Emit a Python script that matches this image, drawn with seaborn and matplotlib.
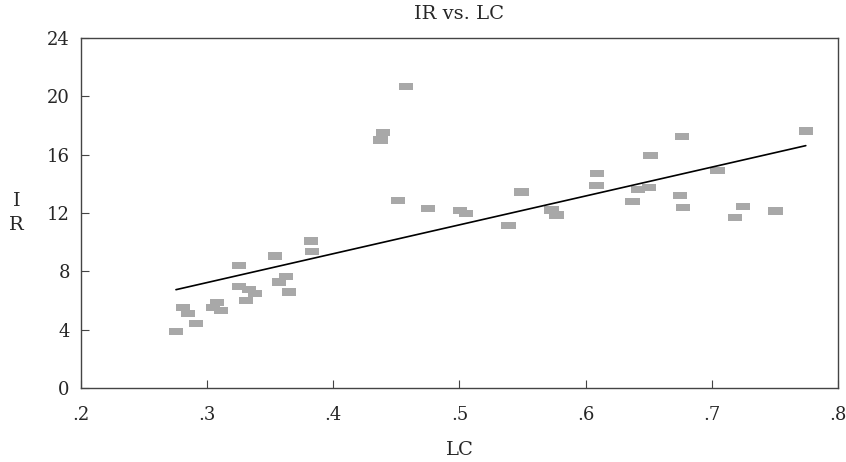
import numpy as np
import pandas as pd
import matplotlib
matplotlib.use("Agg")
import matplotlib.pyplot as plt
import seaborn as sns

# values
lc = [0.2753, 0.2811, 0.2850, 0.2909, 0.3048, 0.3080, 0.3107, 0.3250, 0.3250,
      0.3307, 0.3334, 0.3381, 0.3537, 0.3571, 0.3624, 0.3651, 0.3823, 0.3833,
      0.4375, 0.4391, 0.4512, 0.4575, 0.4752, 0.5006, 0.5051, 0.5389, 0.5492,
      0.5730, 0.5769, 0.6086, 0.6091, 0.6372, 0.6416, 0.6501, 0.6514, 0.6746,
      0.6765, 0.6770, 0.7045, 0.7185, 0.7248, 0.7505, 0.7745]
ir = [3.86, 5.51, 5.09, 4.41, 5.51, 5.85, 5.33, 8.41, 6.93,
      6.03, 6.77, 6.47, 9.05, 7.27, 7.63, 6.58, 10.08, 9.35,
      17.01, 17.51, 12.87, 20.66, 12.30, 12.16, 11.95, 11.13, 13.44,
      12.21, 11.86, 13.87, 14.70, 12.78, 13.62, 13.76, 15.96, 13.19,
      17.23, 12.36, 14.93, 11.70, 12.43, 12.14, 17.62]
x_ticks = [0.2, 0.3, 0.4, 0.5, 0.6, 0.7, 0.8]
x_labels = [".2", ".3", ".4", ".5", ".6", ".7", ".8"]
y_ticks = [0, 4, 8, 12, 16, 20, 24]

df = pd.DataFrame({"LC": lc, "IR": ir})

sns.set_theme(style="white")
plt.rcParams["font.family"] = ["DejaVu Serif"]

fig = plt.figure(figsize=(8.46, 4.62), dpi=100)
ax = fig.add_axes([0.0957, 0.1602, 0.8948, 0.7575])

rect = [(-1, -0.5), (1, -0.5), (1, 0.5), (-1, 0.5), (-1, -0.5)]
sns.scatterplot(data=df, x="LC", y="IR", marker=rect, s=105, color="#a8a8a8",
                edgecolor="none", linewidth=0, ax=ax, zorder=2)

# least squares fit line over the data range
b, a = np.polyfit(df["LC"], df["IR"], 1)
xs = np.array([df["LC"].min(), df["LC"].max()])
sns.lineplot(x=xs, y=a + b * xs, color="black", linewidth=1.2, ax=ax, zorder=3)

ax.set_xlim(0.2, 0.8)
ax.set_ylim(0, 24)
ax.set_xticks(x_ticks)
ax.set_xticklabels(x_labels)
ax.set_yticks(y_ticks)
ax.tick_params(axis="both", direction="in", length=6, width=0.8, color="#444444",
               labelsize=13, bottom=True, left=True)
ax.tick_params(axis="x", pad=13)
ax.tick_params(axis="y", pad=8)
for sp in ax.spines.values():
    sp.set_color("#444444")
    sp.set_linewidth(1)

ax.set_title("IR vs. LC", fontsize=14, pad=14)
ax.set_xlabel("LC", fontsize=14, labelpad=12)
ax.set_ylabel("I\nR", fontsize=14, rotation=0, labelpad=22, va="center", linespacing=1.4)

plt.savefig("out.png", dpi=100)
